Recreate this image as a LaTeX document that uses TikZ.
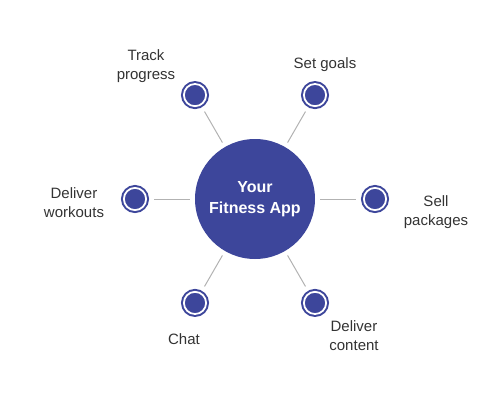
\documentclass[tikz,border=0pt]{standalone}
\usepackage{fontspec}
\setmainfont{Liberation Sans}
\usetikzlibrary{shapes,arrows,positioning}
\definecolor{appblue}{RGB}{61,70,155}
\definecolor{spoke}{RGB}{178,178,178}
\definecolor{labeltext}{RGB}{51,51,51}

\begin{document}
\begin{tikzpicture}[x=1pt,y=1pt,align=center,
    app node/.style={circle,fill=appblue,minimum size=120pt,inner sep=0pt,text=white,font=\fontsize{16}{21}\selectfont\bfseries},
    dot node/.style={circle,fill=appblue,draw=appblue,double=white,double distance=1.8pt,line width=2pt,minimum size=22.2pt,inner sep=0pt,outer sep=2.9pt},
    label node/.style={text=labeltext,font=\fontsize{15}{19}\selectfont}]
  \useasboundingbox (-255,-201) rectangle (245,199);
    \node[app node] (app) at (0,0) {Your\\Fitness App};
    \node[dot node] (sell) at (0:120) {};
    \node[dot node] (goals) at (60:120) {};
    \node[dot node] (track) at (120:120) {};
    \node[dot node] (workouts) at (180:120) {};
    \node[dot node] (chat) at (240:120) {};
    \node[dot node] (content) at (300:120) {};

    \node[label node] (l1) at (-109,133) {Track\\progress};
    \node[label node] (l2) at (70,134) {Set goals};
    \node[label node] (l3) at (181,-13) {Sell\\packages};
    \node[label node] (l4) at (-181,-4) {Deliver\\workouts};
    \node[label node] (l5) at (-71,-140) {Chat};
    \node[label node] (l6) at (99,-137) {Deliver\\content};

  \path[draw=spoke,line width=1pt,shorten <=5pt,shorten >=5pt]
  (app) edge (sell)
  (app) edge (goals)
  (app) edge (track)
  (app) edge (workouts)
  (app) edge (chat)
  (app) edge (content);
  \end{tikzpicture}
\end{document}
